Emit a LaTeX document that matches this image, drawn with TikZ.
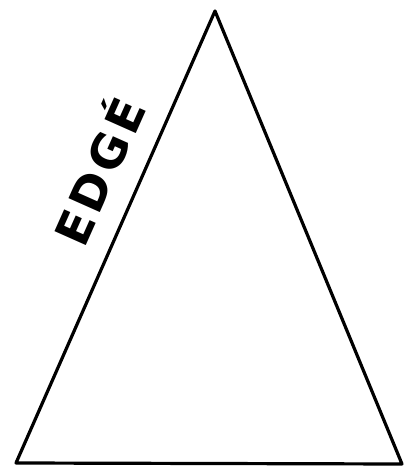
\documentclass[tikz,border=0pt]{standalone}
\usepackage{fontspec}
\newfontfamily\edgefont{DejaVu Sans}[BoldFont={DejaVu Sans Bold}]
\begin{document}
\begin{tikzpicture}[x=1pt,y=1pt,
  edge/.style={draw=black,line width=3.2pt,line join=round},
  letter/.style={inner sep=0pt,font=\edgefont\bfseries\fontsize{47}{47}\selectfont,anchor=base,transform shape}]
\useasboundingbox[fill=white] (0,0) rectangle (407,475);
\coordinate (bl) at (16,12);
\coordinate (br) at (402,11);
\coordinate (top) at (215,464);
\draw[edge] (bl) -- (top) -- (br) -- cycle;
\begin{scope}[shift={(75,247)},rotate=66]
  \node[letter] (l1) at (0,-17) {E};
  \node[letter] (l2) at (40,-17) {D};
  \node[letter] (l3) at (83,-17) {G};
  \node[letter] (l4) at (123,-17) {É};
\end{scope}
\end{tikzpicture}
\end{document}
